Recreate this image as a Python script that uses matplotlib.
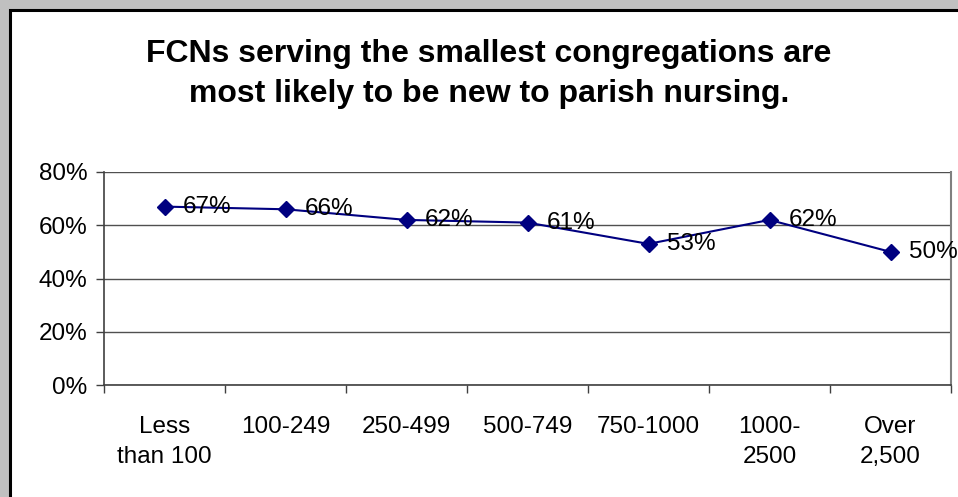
import matplotlib
matplotlib.use("Agg")
import matplotlib.pyplot as plt
from matplotlib.patches import Rectangle
from matplotlib.ticker import FixedLocator, FuncFormatter

categories = ["Less\nthan 100", "100-249", "250-499", "500-749", "750-1000", "1000-\n2500", "Over\n2,500"]
values = [67, 66, 62, 61, 53, 62, 50]
yticks = [0, 20, 40, 60, 80]

plt.rcParams['font.family'] = ['Liberation Sans', 'DejaVu Sans']

W, H = 958, 497
fig = plt.figure(figsize=(W/100, H/100), dpi=100)
fig.patch.set_facecolor('#c0c0c0')
fig.patches.append(Rectangle((9.5/W, -0.05), 1.0, 1 - 9.5/H + 0.05, transform=fig.transFigure,
                             facecolor='white', edgecolor='black', linewidth=2.2, zorder=-10))

ax = fig.add_axes([104/W, (H-385)/H, (951-104)/W, (385-172)/H])
ax.set_facecolor('none')
x = list(range(len(values)))
ax.plot(x, values, color='#000080', lw=1.5, marker='D', markersize=8.5, zorder=3)
for xi, v in zip(x, values):
    ax.annotate(f"{v}%", (xi, v), xytext=(13.5, 0), textcoords='offset points',
                va='center', ha='left', fontsize=17.5, color='black', zorder=4)

ax.set_xlim(-0.5, len(values) - 0.5)
ax.set_ylim(0, 80)
ax.set_yticks(yticks)
ax.yaxis.set_major_formatter(FuncFormatter(lambda v, p: f"{int(v)}%"))
ax.tick_params(axis='y', direction='out', length=6, width=1, color='#404040',
               labelsize=17.5, pad=6)
ax.grid(axis='y', color='#505050', lw=1)
ax.set_axisbelow(True)

ax.set_xticks(x)
ax.set_xticklabels(categories, fontsize=17.5, linespacing=1.5)
ax.tick_params(axis='x', which='major', length=0, pad=22)
ax.xaxis.set_minor_locator(FixedLocator([i - 0.5 for i in range(len(values) + 1)]))
ax.tick_params(axis='x', which='minor', direction='out', length=6, width=1, color='#404040')

for s in ['left', 'bottom']:
    ax.spines[s].set_color('#404040')
    ax.spines[s].set_linewidth(1.2)
ax.spines['top'].set_visible(False)
ax.spines['right'].set_color('#808080')
ax.spines['right'].set_linewidth(1.5)

fig.text(489/W, 1 - 74/H, "FCNs serving the smallest congregations are\nmost likely to be new to parish nursing.",
         ha='center', va='center', fontsize=23, fontweight='bold', linespacing=1.42)

fig.savefig("out.png", dpi=100, facecolor=fig.get_facecolor())
